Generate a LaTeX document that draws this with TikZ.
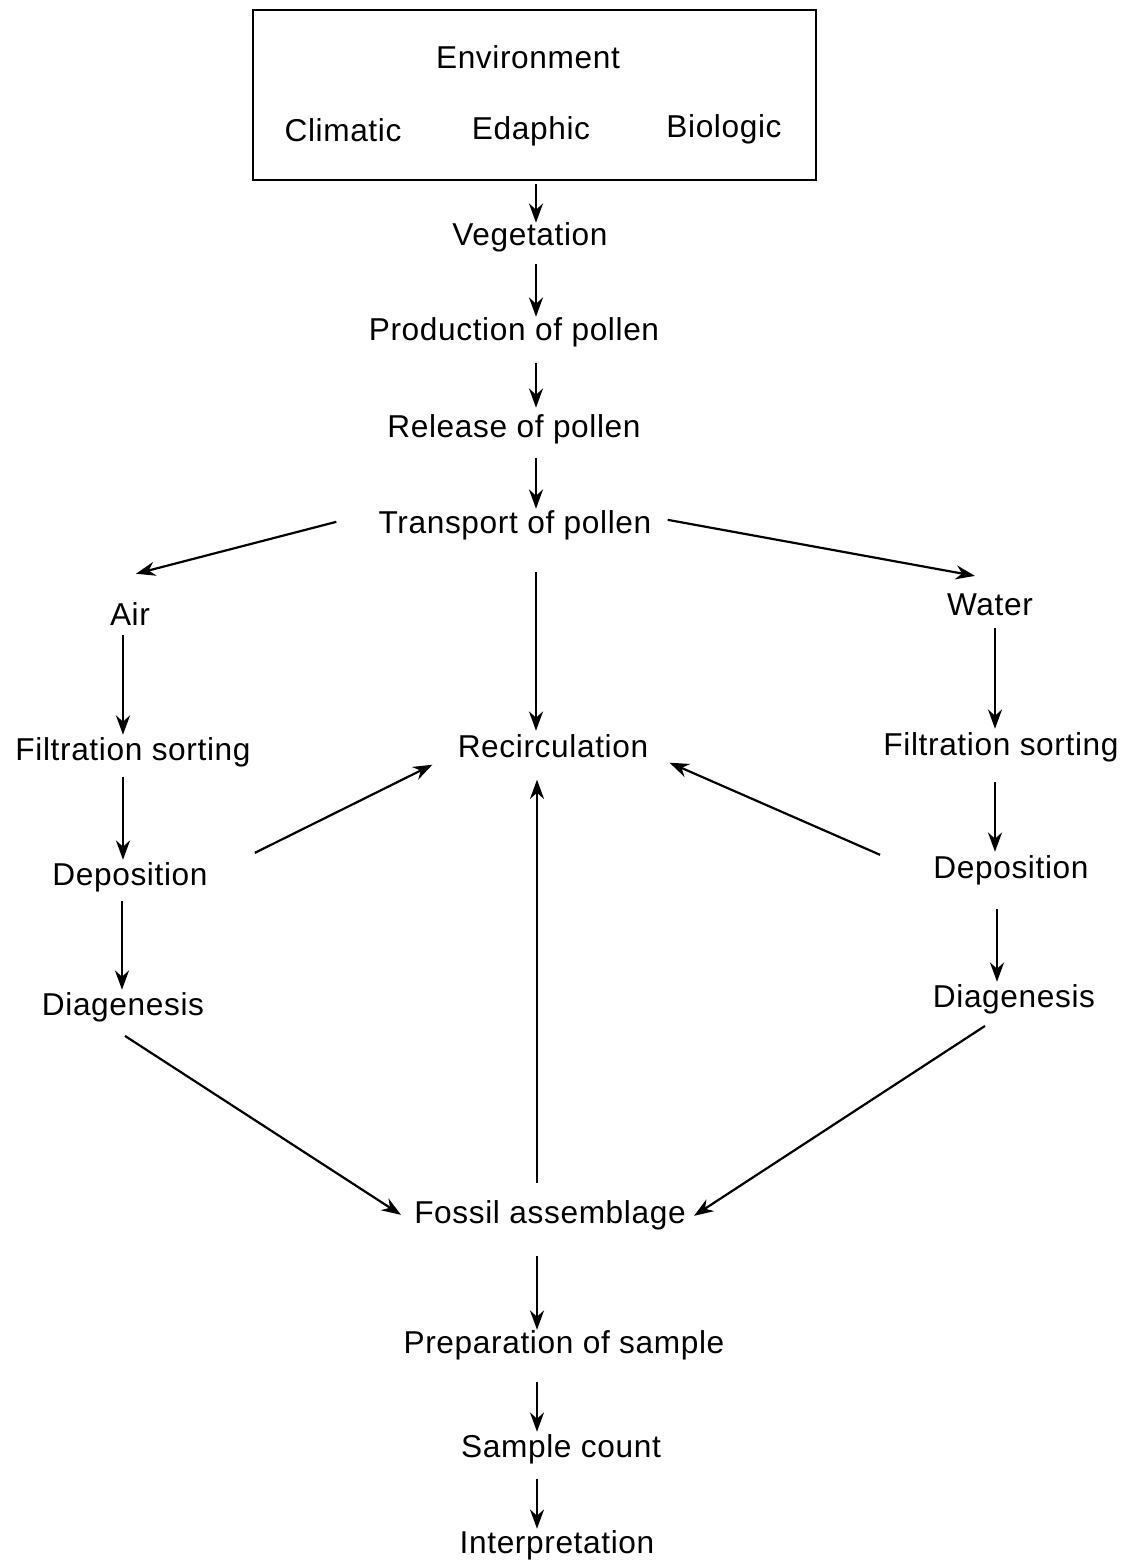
\documentclass[tikz,border=0pt]{standalone}
\usepackage{fontspec}
\setmainfont{Liberation Sans}[LetterSpace=2]
\usetikzlibrary{arrows.meta,calc}
\begin{document}
\begin{tikzpicture}[x=0.02cm,y=-0.02cm,
  lbl/.style={font=\fontsize{18}{21}\selectfont, inner sep=0pt, anchor=base},
  arr/.style={line width=1.25pt,-{Stealth[length=11pt,width=8pt]}}]
\useasboundingbox (0,0) rectangle (1138,1562);
\fill[white] (0,0) rectangle (1138,1562);
% box
\node[draw,line width=1.1pt,minimum width=11.26cm,minimum height=3.4cm,inner sep=0pt] (envbox) at (534.5,95) {};
\node[lbl] (env) at (528,68) {Environment};
\node[lbl] (clim) at (343,141) {Climatic};
\node[lbl] (edap) at (531,139) {Edaphic};
\node[lbl] (bio) at (724,137) {Biologic};
% spine
\coordinate (sp) at (536,0);
\node[lbl] (veg) at (530,245) {Vegetation};
\node[lbl] (prod) at (514,340) {Production of pollen};
\node[lbl] (rel) at (514,437) {Release of pollen};
\node[lbl] (trans) at (515,533) {Transport of pollen};
\node[lbl] (air) at (130,625) {Air};
\node[lbl] (water) at (990,615) {Water};
\node[lbl] (fsl) at (133,760) {Filtration sorting};
\node[lbl] (fsr) at (1001,755) {Filtration sorting};
\node[lbl] (recirc) at (553,757) {Recirculation};
\node[lbl] (depl) at (130,885) {Deposition};
\node[lbl] (depr) at (1011,878) {Deposition};
\node[lbl] (diagl) at (123,1015) {Diagenesis};
\node[lbl] (diagr) at (1014,1007) {Diagenesis};
\node[lbl] (fossil) at (550,1223) {Fossil assemblage};
\node[lbl] (prep) at (564,1353) {Preparation of sample};
\node[lbl] (count) at (561,1457) {Sample count};
\node[lbl] (interp) at (557,1553) {Interpretation};
% vertical spine arrows
\draw[arr] ($(envbox.south -| sp)+(0,3)$) -- ($(veg.north -| sp)+(0,1)$);
\draw[arr] ($(veg.south -| sp)+(0,12)$) -- ($(prod.north -| sp)+(0,0)$);
\draw[arr] ($(prod.south -| sp)+(0,16)$) -- ($(rel.north -| sp)+(0,-6)$);
\draw[arr] ($(rel.south -| sp)+(0,14)$) -- ($(trans.north -| sp)+(0,-1)$);
\draw[arr] ($(trans.south -| sp)+(0,32)$) -- ($(recirc.north -| sp)+(0,-3)$);
\draw[arr] ($(fossil.north -| sp)+(1,-17)$) -- ($(recirc.south -| sp)+(1,22)$);
\draw[arr] ($(fossil.south -| sp)+(1,26)$) -- ($(prep.north -| sp)+(1,0)$);
\draw[arr] ($(prep.south -| sp)+(1,22)$) -- ($(count.north -| sp)+(1,-2)$);
\draw[arr] ($(count.south -| sp)+(1,15)$) -- ($(interp.north -| sp)+(1,-1)$);
% branches
\draw[arr] ($(trans.west)+(-42,-3)$) -- ($(air.north)+(6,-28)$);
\draw[arr] ($(trans.east)+(16,-5)$) -- ($(water.north)+(-15,-17)$);
% left column
\coordinate (lc) at (123,0);
\draw[arr] ($(air.south -| lc)+(0,10)$) -- ($(fsl.north -| lc)+(0,-2)$);
\draw[arr] ($(fsl.south -| lc)+(0,10)$) -- ($(depl.north -| lc)+(0,-2)$);
\draw[arr] ($(depl.south -| lc)+(-1,9)$) -- ($(diagl.north -| lc)+(-1,-2)$);
% right column
\coordinate (rc) at (995,0);
\draw[arr] ($(water.south -| rc)+(0,12)$) -- ($(fsr.north -| rc)+(0,-3)$);
\draw[arr] ($(fsr.south -| rc)+(0,20)$) -- ($(depr.north -| rc)+(0,-3)$);
\draw[arr] ($(depr.south -| rc)+(2,24)$) -- ($(diagr.north -| rc)+(2,-2)$);
% to recirculation
\draw[arr] ($(depl.east)+(47,-24)$) -- ($(recirc.west)+(-25,19)$);
\draw[arr] ($(depr.west)+(-53,-15)$) -- ($(recirc.east)+(21,17)$);
% to fossil
\draw[arr] ($(diagl.south)+(2,14)$) -- ($(fossil.west)+(-13,0)$);
\draw[arr] ($(diagr.south)+(-29,12)$) -- ($(fossil.east)+(8,1)$);
\end{tikzpicture}
\end{document}
